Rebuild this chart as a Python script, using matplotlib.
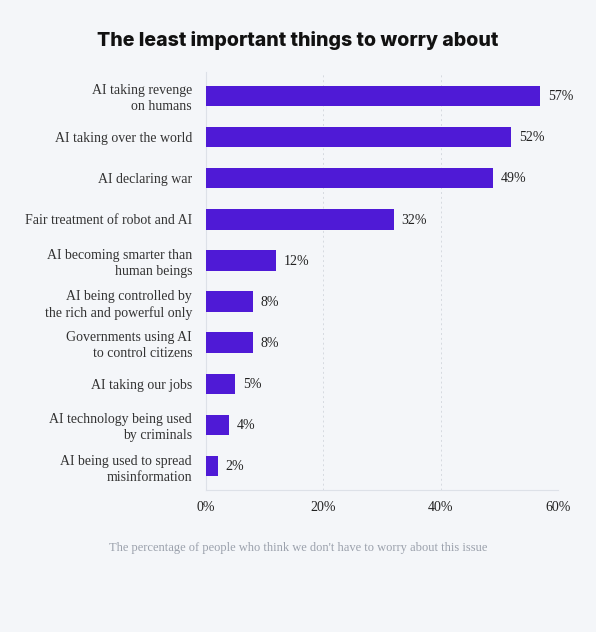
import numpy as np
import matplotlib
matplotlib.use('Agg')
from matplotlib import pyplot as plt

labels = ['AI taking revenge\non humans', 'AI taking over the world', 'AI declaring war',
          'Fair treatment of robot and AI', 'AI becoming smarter than\nhuman beings',
          'AI being controlled by\nthe rich and powerful only', 'Governments using AI\nto control citizens',
          'AI taking our jobs', 'AI technology being used\nby criminals',
          'AI being used to spread\nmisinformation']
values = [57, 52, 49, 32, 12, 8, 8, 5, 4, 2]
xticks = [0, 20, 40, 60]

bg = '#f4f6f9'
bar_color = '#4f1ad6'
serif = ['Liberation Serif', 'DejaVu Serif']

fig = plt.figure(figsize=(5.96, 6.32), dpi=100, facecolor=bg)
ax = fig.add_axes([206/596, 1-490/632, 352/596, 418/632], facecolor=bg)

ypos = np.arange(len(values))
ax.barh(ypos, values, height=0.5, color=bar_color, zorder=3)
for y, v in zip(ypos, values):
    ax.text(v + 1.3, y + 0.02, f'{v}%', va='center', ha='left', fontsize=10,
            family=serif, color='#222222', zorder=4)

ax.set_xlim(0, 60)
ax.set_ylim(9.58, -0.58)
ax.set_yticks(ypos)
ax.set_yticklabels(labels, family=serif, fontsize=10, color='#333333', linespacing=1.3)
ax.set_xticks(xticks)
ax.set_xticklabels([f'{t}%' for t in xticks], family=serif, fontsize=10, color='#222222')
ax.tick_params(axis='both', length=0)
ax.tick_params(axis='y', pad=10)
ax.tick_params(axis='x', pad=8)

for s in ['top', 'right']:
    ax.spines[s].set_visible(False)
ax.spines['left'].set_color('#dde1e8')
ax.spines['bottom'].set_color('#dde1e8')
ax.xaxis.grid(True, color='#d6dae0', linewidth=0.7, dashes=[2, 3], zorder=0)
ax.set_axisbelow(True)

fig.text(0.5, 1-40/632, 'The least important things to worry about', ha='center', va='center',
         fontsize=14.1, fontweight='heavy', family=['Inter', 'DejaVu Sans'], color='#111111')
fig.text(0.5, 1-548/632, "The percentage of people who think we don't have to worry about this issue",
         ha='center', va='center', fontsize=9, family=serif, color='#9ba1ac')

fig.savefig('out.png', dpi=100, facecolor=bg)
